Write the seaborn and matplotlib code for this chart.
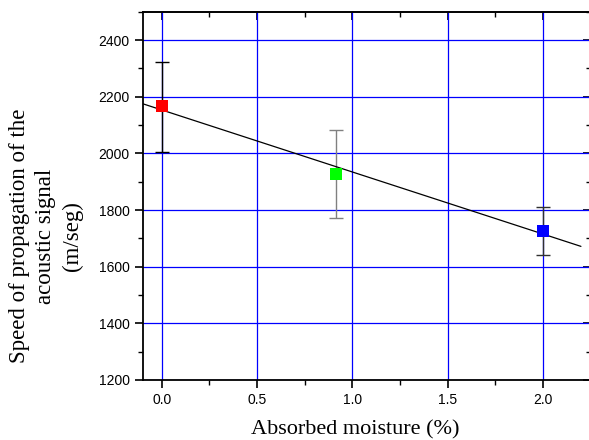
import numpy as np
import pandas as pd
import matplotlib
matplotlib.use("Agg")
import matplotlib.pyplot as plt
import seaborn as sns
from matplotlib.ticker import MultipleLocator

moisture = [0.0, 0.913, 2.0]
speed = [2167, 1928, 1727]
err_low = [2005, 1773, 1642]
err_high = [2322, 2081, 1811]
point_colors = ["#ff0000", "#00ff00", "#0000ff"]
bar_colors = ["#000000", "#808080", "#303030"]
fit_x_range = [-0.1, 2.2]

sns.set_theme(style="white")
plt.rcParams['font.family'] = ['Liberation Sans', 'DejaVu Sans']

fig = plt.figure(figsize=(5.89, 4.40), dpi=100)
ax = fig.add_axes([0.2423, 0.1364, 1.0028 - 0.2423, 0.9734 - 0.1364])

df = pd.DataFrame({"x": moisture, "y": speed, "c": ["a", "b", "c"]})

# error bars
for x, y, lo, hi, bc in zip(moisture, speed, err_low, err_high, bar_colors):
    ax.errorbar([x], [y], yerr=[[y - lo], [hi - y]], fmt="none", ecolor=bc,
                elinewidth=1.0, capsize=5.2, capthick=1.0, zorder=3)

# linear fit
slope, intercept = np.polyfit(moisture, speed, 1)
fx = np.array(fit_x_range)
fit_df = pd.DataFrame({"x": fx, "y": slope * fx + intercept})
sns.lineplot(data=fit_df, x="x", y="y", color="black", linewidth=0.9, ax=ax, zorder=4)

sns.scatterplot(data=df, x="x", y="y", hue="c", palette=point_colors, marker="s",
                s=75, edgecolor="none", legend=False, ax=ax, zorder=5)

ax.set_xlim(-0.1, 2.251)
ax.set_ylim(1200, 2500)
ax.set_xticks([0, 0.5, 1.0, 1.5, 2.0])
ax.set_xticklabels(["0.0", "0.5", "1.0", "1.5", "2.0"])
ax.xaxis.set_minor_locator(MultipleLocator(0.25))
ax.set_yticks([1200, 1400, 1600, 1800, 2000, 2200, 2400])
ax.yaxis.set_minor_locator(MultipleLocator(100))

ax.grid(True, which="major", color="#0000ff", linewidth=0.9)
ax.set_axisbelow(True)

for s in ax.spines.values():
    s.set_color("black")
    s.set_linewidth(1.3)

ax.tick_params(which="both", bottom=True, left=True, top=False, right=False,
               direction="out", color="black", labelsize=10, labelcolor="black")
ax.tick_params(which="major", length=6, width=1.2)
ax.tick_params(which="minor", length=3.5, width=1.0)

# inward ticks on top/right
secx = ax.secondary_xaxis("top")
secx.xaxis.set_major_locator(MultipleLocator(0.5))
secx.xaxis.set_minor_locator(MultipleLocator(0.25))
secx.tick_params(which="both", direction="in", labeltop=False, color="black")
secx.tick_params(which="major", length=6, width=1.2)
secx.tick_params(which="minor", length=3.5, width=1.0)
secy = ax.secondary_yaxis("right")
secy.yaxis.set_major_locator(MultipleLocator(200))
secy.yaxis.set_minor_locator(MultipleLocator(100))
secy.tick_params(which="both", direction="in", labelright=False, color="black")
secy.tick_params(which="major", length=6, width=1.2)
secy.tick_params(which="minor", length=3.5, width=1.0)

ax.set_xlabel("Absorbed moisture (%)", family=["Liberation Serif", "DejaVu Serif"],
              fontsize=16, color="black")
ax.xaxis.label.set_va("center")
ax.xaxis.set_label_coords(0.4746, -0.1358)

ax.set_ylabel("Speed of propagation of the\nacoustic signal\n(m/seg)",
              family=["Liberation Serif", "DejaVu Serif"], fontsize=16.5,
              color="black", linespacing=1.35)
ax.yaxis.label.set_va("center")
ax.yaxis.set_label_coords(-0.216, 0.391)

fig.savefig("out.png", dpi=100)
